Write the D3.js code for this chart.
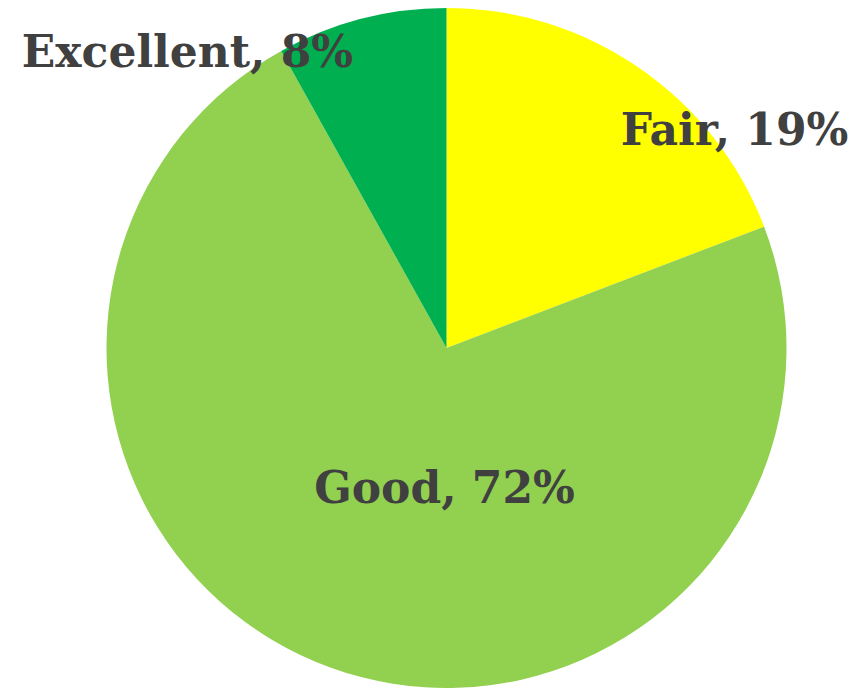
<!DOCTYPE html>
<html>
<head>
<meta charset="utf-8">
<script src="https://cdn.jsdelivr.net/npm/d3@7"></script>
<style>
  html, body { margin: 0; padding: 0; background: #ffffff; }
  svg { display: block; }
  .lbl { font-family: "DejaVu Serif", "Liberation Serif", Georgia, serif; font-weight: bold; fill: #404040; }
</style>
</head>
<body>
<script>
// Rating shares
const categories = ["Fair", "Good", "Excellent"];
const values = [19, 72, 8];
const colors = ["#FFFF00", "#92D050", "#00B050"];

const width = 867, height = 688;
const cx = 446.5, cy = 348, radius = 340;

const svg = d3.select("body").append("svg")
  .attr("width", width).attr("height", height);

const data = categories.map((c, i) => ({ name: c, value: values[i], color: colors[i] }));

const pie = d3.pie().value(d => d.value).sort(null);
const arc = d3.arc().innerRadius(0).outerRadius(radius);
const arcs = pie(data);

const g = svg.append("g").attr("transform", `translate(${cx},${cy})`);

g.selectAll("path").data(arcs).join("path")
  .attr("d", arc)
  .attr("fill", d => d.data.color);

// Label anchors (center of text, baseline), relative to pie center
const labelPos = {
  "Fair": [288, -203],
  "Good": [-2, 155],
  "Excellent": [-259, -281]
};

g.selectAll("text").data(arcs).join("text")
  .attr("class", "lbl")
  .attr("text-anchor", "middle")
  .attr("font-size", 44)
  .attr("x", d => labelPos[d.data.name][0])
  .attr("y", d => labelPos[d.data.name][1])
  .text(d => `${d.data.name}, ${d.data.value}%`);
</script>
</body>
</html>
